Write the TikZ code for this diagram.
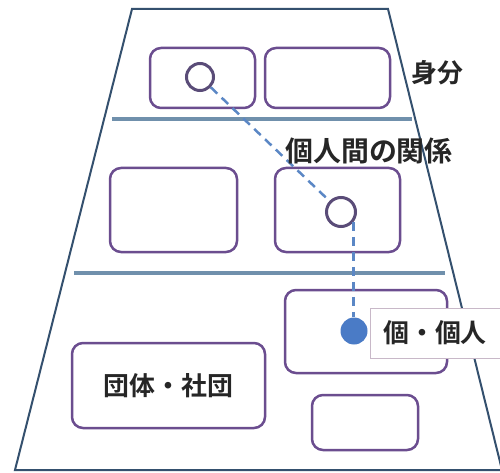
\documentclass[tikz,border=0pt]{standalone}
\usepackage{fontspec}
\newfontfamily\jp{Noto Sans CJK JP}[BoldFont={Noto Sans CJK JP Bold}]
\definecolor{trapc}{HTML}{34506E}
\definecolor{hlinec}{HTML}{7090AC}
\definecolor{boxc}{HTML}{6B4D8F}
\definecolor{circc}{HTML}{5A4C78}
\definecolor{dashc}{HTML}{5B87C5}
\definecolor{fillc}{HTML}{4A7BC6}
\definecolor{labc}{HTML}{C8B8C8}
\begin{document}
\begin{tikzpicture}[x=1bp,y=-1bp,
  rbox/.style={draw=boxc,line width=2.5bp,rounded corners=11bp,fill=white,inner sep=0pt},
  ring/.style={circle,draw=circc,line width=3bp,fill=white,minimum size=27bp,inner sep=0pt},
  dot/.style={circle,fill=fillc,minimum size=27bp,inner sep=0pt},
  link/.style={draw=dashc,line width=2.5bp,dash pattern=on 9bp off 6bp},
  jtext/.style={font=\jp\bfseries\fontsize{26}{30}\selectfont,text=black!85,inner sep=0pt},
  layer/.style={draw=hlinec,line width=4bp}]
\useasboundingbox (0,0) rectangle (500,473);
\fill[white] (0,0) rectangle (500,473);
% trapezoid
\draw[trapc,line width=2bp,line join=miter] (132,9) -- (388,9) -- (502,470) -- (15,470) -- cycle;
% layer separators
\coordinate (l1a) at (112,119); \coordinate (l1b) at (412,119);
\coordinate (l2a) at (74,273);  \coordinate (l2b) at (445,273);
\draw[layer] (l1a) -- (l1b);
\draw[layer] (l2a) -- (l2b);
% boxes
\node[rbox,minimum width=105bp,minimum height=60bp] (bA) at (202.5,78) {};
\node[rbox,minimum width=125bp,minimum height=60bp] (bB) at (327.5,78) {};
\node[rbox,minimum width=127bp,minimum height=84bp] (bC) at (173.5,210) {};
\node[rbox,minimum width=125bp,minimum height=84bp] (bD) at (337.5,210) {};
\node[rbox,minimum width=162bp,minimum height=83bp] (bE) at (366,331.5) {};
\node[rbox,minimum width=193bp,minimum height=85bp] (bF) at (168.5,385.5) {};
\node[rbox,minimum width=106bp,minimum height=55bp] (bG) at (365,422.5) {};
% circles
\node[ring] (cA) at (200,77) {};
\node[ring,minimum size=29bp] (cD) at (341,212) {};
\node[dot] (cF) at (354,331) {};
% links
\draw[link] (cA) -- (cD);
\coordinate (vTop) at (cD.-38);
\draw[link] (vTop) -- (vTop |- cF.north);
% labels
\node[jtext] (tMibun) at (437,73) {身分};
\node[jtext,font=\jp\bfseries\fontsize{28}{30}\selectfont] (tKojin) at (369,151) {個人間の関係};
\node[jtext] (tF) at (bF.center) {団体・社団};
\node[jtext,draw=labc,line width=1bp,fill=white,minimum width=130bp,minimum height=50bp] (tKo) at (435,333) {個・個人};
\end{tikzpicture}
\end{document}
